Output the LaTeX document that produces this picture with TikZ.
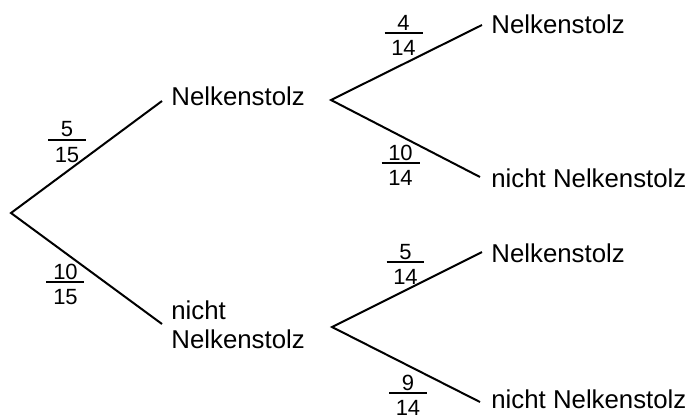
\documentclass[tikz,border=0pt]{standalone}
\usepackage{fontspec}
\setmainfont{Liberation Sans}
\newcommand\frc[2]{\vbox{\hbox to 19pt{\hss#1\hss}\kern1pt\hrule height 0.9pt\kern3pt\hbox to 19pt{\hss#2\hss}}}
\begin{document}
\begin{tikzpicture}[x=0.5pt,y=-0.5pt,
  lbl/.style={anchor=base west,inner sep=0pt,font=\fontsize{12.9}{14.5}\selectfont},
  fracn/.style={inner sep=0pt,font=\fontsize{11}{12}\selectfont},
  br/.style={line width=1pt}]
\useasboundingbox (0,0) rectangle (687,414);
% joints
\coordinate (root) at (11,213);
\coordinate (a1) at (162,101);
\coordinate (a2) at (162,324);
\coordinate (b1) at (331,100);
\coordinate (b2) at (332,327);
\coordinate (c1) at (482,25);
\coordinate (c2) at (480,177);
\coordinate (c3) at (482,252);
\coordinate (c4) at (480,402);
% labels
\node[lbl] (n1) at (171,105) {Nelkenstolz};
\node[lbl,align=left] (n2) at (171,348) {nicht\\Nelkenstolz};
\node[lbl] (m1) at (491,33) {Nelkenstolz};
\node[lbl] (m2) at (491,187) {nicht Nelkenstolz};
\node[lbl] (m3) at (491,262) {Nelkenstolz};
\node[lbl] (m4) at (491,408) {nicht Nelkenstolz};
% branches
\draw[br] (a1) -- (root) -- (a2);
\draw[br] (c1) -- (b1) -- (c2);
\draw[br] (c3) -- (b2) -- (c4);
% fractions
\node[fracn] (f1) at (67,142) {\frc{5}{15}};
\node[fracn] (f2) at (65.5,284) {\frc{10}{15}};
\node[fracn] (f3) at (403.5,35) {\frc{4}{14}};
\node[fracn] (f4) at (400.5,165) {\frc{10}{14}};
\node[fracn] (f5) at (405.5,264) {\frc{5}{14}};
\node[fracn] (f6) at (408,395) {\frc{9}{14}};
\end{tikzpicture}
\end{document}
